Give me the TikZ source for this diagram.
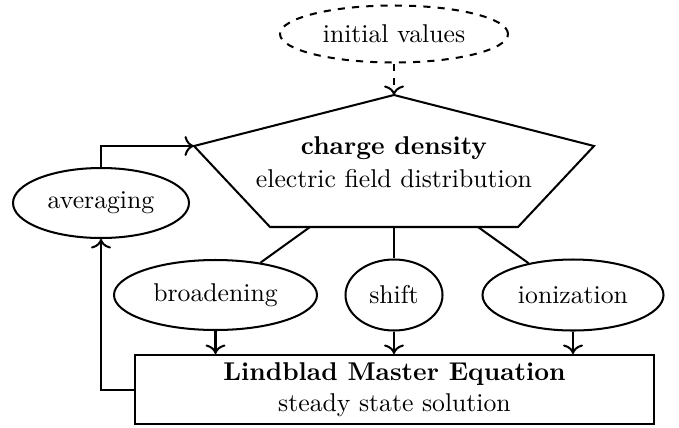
\documentclass[tikz,border=0pt]{standalone}
\usetikzlibrary{shapes.geometric,arrows.meta}
\begin{document}
\begin{tikzpicture}[x=0.42pt,y=-0.42pt,
  every path/.style={line width=0.85pt},
  every node/.style={font=\fontsize{10.8}{13}\selectfont},
  oval/.style={draw,ellipse,inner sep=0pt,line width=0.85pt},
  arr/.style={-{To[scale=1.15]},line width=0.85pt},
  txt/.style={inner sep=0pt,align=center}]
\useasboundingbox (0,0) rectangle (679,427);
% initial values
\node[oval,dashed,minimum width={228*0.42pt},minimum height={57*0.42pt}] (init) at (394,34) {initial values};
% pentagon
\coordinate (ptop) at (394,95);
\coordinate (pleft) at (194,146);
\coordinate (pright) at (594,146);
\coordinate (pbl) at (270,227);
\coordinate (pbr) at (518,227);
\draw (ptop) -- (pright) -- (pbr) -- (pbl) -- (pleft) -- cycle;
\node[txt] (pent) at (394,162) {\textbf{charge density}\\[1pt]electric field distribution};
\coordinate (pb1) at (310,227);
\coordinate (pb2) at (394,227);
\coordinate (pb3) at (478,227);
% ellipses
\node[oval,minimum width={176*0.42pt},minimum height={70*0.42pt}] (avg) at (101,203) {averaging};
\node[oval,minimum width={203*0.42pt},minimum height={70*0.42pt}] (broad) at (215.5,295) {broadening};
\node[oval,minimum width={97*0.42pt},minimum height={71*0.42pt}] (shift) at (394,295) {shift};
\node[oval,minimum width={181*0.42pt},minimum height={71*0.42pt}] (ion) at (573,295) {ionization};
% box
\node[draw,rectangle,inner sep=0pt,align=center,minimum width={519*0.42pt},minimum height={69*0.42pt}] (lme) at (394.5,389.5) {\textbf{Lindblad Master Equation}\\[0pt]steady state solution};
% connectors
\draw[arr,dashed] (init) -- (ptop);
\draw (pb1) -- (broad);
\draw (pb2) -- (shift);
\draw (pb3) -- (ion);
\draw[arr] (broad.south) -- (broad.south |- lme.north);
\draw[arr] (shift) -- (shift |- lme.north);
\draw[arr] (ion) -- (ion |- lme.north);
\draw[arr] (lme.west) -| (avg.south);
\draw[arr] (avg.north) |- (pleft);
\end{tikzpicture}
\end{document}
